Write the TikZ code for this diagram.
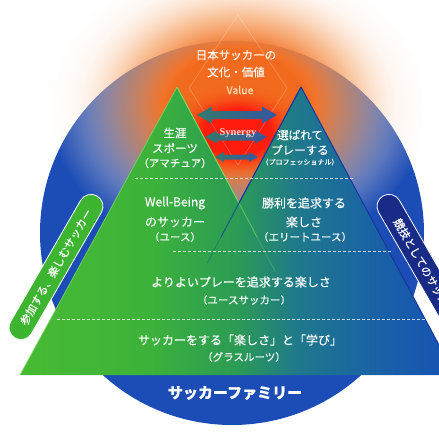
\documentclass[tikz,border=0pt]{standalone}
\usepackage{fontspec}
\setmainfont{Noto Sans CJK JP}[FakeBold=0.35]
\newfontfamily\synfont{Liberation Serif}
\usetikzlibrary{fadings,calc}
\definecolor{circblue}{HTML}{1C4DB6}
\definecolor{glowred}{HTML}{FF1C0C}
\definecolor{glowora}{HTML}{F26A1E}
\definecolor{glowlight}{HTML}{F5A060}
\definecolor{glowpeach}{HTML}{FCE4D4}
\definecolor{pillgreen}{HTML}{3DB531}
\definecolor{pillnavy}{HTML}{182B86}
\definecolor{arrgreen}{HTML}{33796E}
\definecolor{arrblue}{HTML}{3656A0}
\definecolor{edgegreen}{HTML}{7ED860}
\definecolor{edgeblue}{HTML}{1438A0}
\definecolor{synpink}{HTML}{FFD6D0}
\definecolor{valpeach}{HTML}{FFDDB8}
\pgfdeclareradialshading{glowshade}{\pgfpointorigin}{color(0bp)=(glowora); color(9bp)=(glowora); color(15bp)=(glowlight); color(21bp)=(glowpeach); color(50bp)=(glowpeach)}
\pgfdeclareradialshading{glowmask}{\pgfpointorigin}{color(0bp)=(transparent!0); color(10bp)=(transparent!0); color(25bp)=(transparent!100); color(50bp)=(transparent!100)}
\pgfdeclarefading{glowfade}{\pgfuseshading{glowmask}}
\pgfdeclareradialshading{coreshade}{\pgfpointorigin}{color(0bp)=(glowred); color(12bp)=(glowred); color(25bp)=(glowora); color(50bp)=(glowora)}
\pgfdeclareradialshading{coremask}{\pgfpointorigin}{color(0bp)=(transparent!0); color(12bp)=(transparent!0); color(25bp)=(transparent!100); color(50bp)=(transparent!100)}
\pgfdeclarefading{corefade}{\pgfuseshading{coremask}}
\pgfdeclarehorizontalshading{trishade}{100bp}{color(0bp)=(green!60!black); color(25bp)=({rgb,255:red,72;green,187;blue,51}); color(40bp)=({rgb,255:red,60;green,178;blue,59}); color(50bp)=({rgb,255:red,43;green,155;blue,85}); color(57bp)=({rgb,255:red,31;green,120;blue,140}); color(67bp)=({rgb,255:red,25;green,95;blue,168}); color(75bp)=({rgb,255:red,22;green,82;blue,179}); color(100bp)=({rgb,255:red,22;green,82;blue,179})}
\begin{document}
\begin{tikzpicture}[x=1pt,y=-1pt,
  txt/.style={text=white, inner sep=0pt, font=\fontsize{12}{14}\selectfont},
  sub/.style={text=white, inner sep=0pt, font=\fontsize{10.5}{12}\selectfont},
  rowline/.style={white, opacity=.75, line width=.6pt, dash pattern=on 3pt off 2pt},
  synarrow/.style={left color=arrgreen, right color=arrblue},
  pill/.style={rectangle, rounded corners=12pt, minimum width=164pt, minimum height=24pt, draw=white, line width=.8pt, text=white, inner sep=0pt, font=\fontsize{11}{13}\selectfont}]
\useasboundingbox (0,0) rectangle (439,439);
\clip (0,0) rectangle (439,439);
\fill[circblue] (232,233) circle (192);
\shade[shading=glowshade, path fading=glowfade] (238,106) ellipse (190 and 150);
\shade[shading=coreshade, path fading=corefade] (237,132) ellipse (70 and 48);
\draw[white, opacity=.3, line width=.5pt] (238,15) -- (189,88) -- (238,165) -- (287,88) -- cycle;
\coordinate (gtop) at (177,87);
\coordinate (btop) at (301,87);
\coordinate (cross) at (239,203);
\coordinate (gbl) at (20,375);
\coordinate (gbr) at (330,375);
\coordinate (bbl) at (148,375);
\coordinate (bbr) at (455,375);
\shade[shading=trishade] (gbl) -- (gtop) -- (cross) -- (btop) -- (bbr) -- cycle;
\draw[edgegreen, opacity=.8, line width=.8pt] (gtop) -- (gbl);
\draw[edgegreen, line width=1pt] (gtop) -- (cross);
\draw[edgegreen, opacity=.6, line width=1pt] (cross) -- ($(cross)!.2!(gbr)$);
\draw[edgegreen, opacity=.25, line width=1pt] ($(cross)!.2!(gbr)$) -- ($(cross)!.4!(gbr)$);
\draw[edgeblue, line width=1.2pt] (btop) -- (cross);
\draw[edgeblue, line width=1pt] (btop) -- (bbr);
\draw[edgeblue, opacity=.7, line width=1pt] (cross) -- ($(cross)!.2!(bbl)$);
\draw[edgeblue, opacity=.3, line width=1pt] ($(cross)!.2!(bbl)$) -- ($(cross)!.35!(bbl)$);
\draw[rowline] (135,178) -- (353,178);
\draw[rowline] (173,251) -- (393,251);
\draw[rowline] (57,319) -- (428,319);
\shade[synarrow] (197,115) -- ++(15,-8.5) -- ++(0,4.5) -- ++(50,0) -- ++(0,-4.5) -- ++(15,8.5) -- ++(-15,8.5) -- ++(0,-4.5) -- ++(-50,0) -- ++(0,4.5) -- cycle;
\shade[synarrow] (205,137) -- ++(12,-6.5) -- ++(0,3) -- ++(38,0) -- ++(0,-3) -- ++(12,6.5) -- ++(-12,6.5) -- ++(0,-3) -- ++(-38,0) -- ++(0,3) -- cycle;
\shade[synarrow] (215,157) -- ++(9,-5) -- ++(0,2.5) -- ++(25,0) -- ++(0,-2.5) -- ++(9,5) -- ++(-9,5) -- ++(0,-2.5) -- ++(-25,0) -- ++(0,2.5) -- cycle;
\node[text=synpink, inner sep=0pt, font=\synfont\bfseries\fontsize{10.5}{12}\selectfont] (synergy) at (238,133) {Synergy};
\node[txt, font=\fontsize{11.5}{13}\selectfont] (val1) at (236,55) {日本サッカーの};
\node[txt, font=\fontsize{11.5}{13}\selectfont] (val2) at (236,72) {文化・価値};
\node[text=valpeach, inner sep=0pt, font=\fontsize{10.5}{12}\selectfont] (val3) at (240,90) {Value};
\node[txt, font=\fontsize{11.5}{13}\selectfont] (ama1) at (175,133) {生涯};
\node[txt, font=\fontsize{11.5}{13}\selectfont] (ama2) at (175,148) {スポーツ};
\node[sub] (ama3) at (175,163) {（アマチュア）};
\node[txt, font=\fontsize{11.5}{13}\selectfont] (pro1) at (300,135) {選ばれて};
\node[txt, font=\fontsize{11.5}{13}\selectfont] (pro2) at (300,150) {プレーする};
\node[sub, font=\fontsize{7}{8}\selectfont] (pro3) at (300,162) {（プロフェッショナル）};
\node[txt] (youth1) at (175,203) {Well-Being};
\node[txt] (youth2) at (175,222) {のサッカー};
\node[sub] (youth3) at (175,237) {（ユース）};
\node[txt] (elite1) at (304,203) {勝利を追求する};
\node[txt] (elite2) at (304,222) {楽しさ};
\node[sub] (elite3) at (305,237) {（エリートユース）};
\node[txt] (ysoc1) at (241,282) {よりよいプレーを追求する楽しさ};
\node[sub] (ysoc2) at (244,300) {（ユースサッカー）};
\node[txt] (grass1) at (240,340) {サッカーをする「楽しさ」と「学び」};
\node[sub] (grass2) at (244,357) {（グラスルーツ）};
\node[txt, font=\bfseries\fontsize{15}{17}\selectfont] (family) at (235,393) {サッカーファミリー};
\node[pill, fill=pillgreen, rotate=60] (leftpill) at (56,267) {参加する、楽しむサッカー};
\node[pill, fill=pillnavy, rotate=-60] (rightpill) at (424,267) {競技としてのサッカー};
\end{tikzpicture}
\end{document}
